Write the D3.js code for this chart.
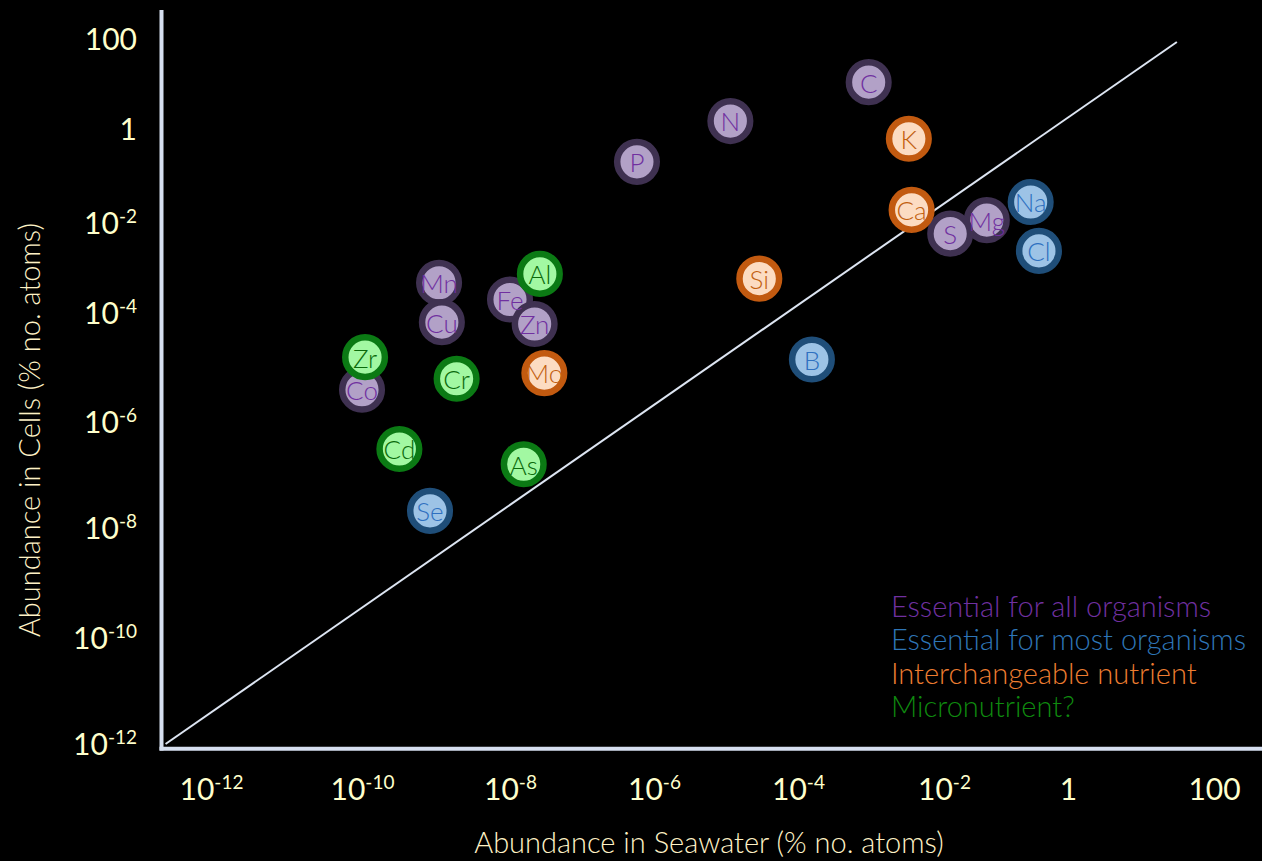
<!DOCTYPE html>
<html>
<head>
<meta charset="utf-8">
<script src="https://cdn.jsdelivr.net/npm/d3@7"></script>
<style>
    body { margin: 0; background: #000; }
    svg { display: block; }
    text { font-family: Lato, "Open Sans", sans-serif; }
</style>
</head>
<body>
<svg width="1262" height="861"></svg>
<script>
//tick values, same decades on both axes (% no. atoms)
const tickValues = [1e-12, 1e-10, 1e-8, 1e-6, 1e-4, 1e-2, 1, 100]

//elements. order = drawing order (later ones sit on top)
const elements = ["Mn", "Cu", "Fe", "Zn", "Al", "Co", "Zr", "Cr", "Mo", "Cd", "As", "Se",
                  "P", "N", "C", "K", "Si", "B", "Mg", "S", "Ca", "Na", "Cl"]
const groups   = ["all", "all", "all", "all", "micro", "all", "micro", "micro", "inter", "micro", "micro", "most",
                  "all", "all", "all", "inter", "inter", "most", "all", "all", "inter", "most", "most"]
const seawater = [1.1e-9, 1.2e-9, 1.0e-8, 2.2e-8, 2.6e-8, 1.0e-10, 1.1e-10, 1.9e-9, 3.0e-8, 3.2e-10, 1.55e-8, 8.3e-10,
                  5.8e-7, 1.15e-5, 9.3e-4, 3.3e-3, 2.9e-5, 1.55e-4, 0.049, 0.0126, 3.6e-3, 0.25, 0.34]
const cells    = [4.7e-4, 6.8e-5, 2.0e-4, 6.3e-5, 7.4e-4, 3.9e-6, 1.55e-5, 6.2e-6, 7.9e-6, 3.1e-7, 1.6e-7, 2.1e-8,
                  0.2, 1.5, 11, 0.62, 5.8e-4, 1.4e-5, 0.0115, 5.8e-3, 0.019, 0.028, 2.4e-3]

//legend
const groupKeys  = ["all", "most", "inter", "micro"]
const groupNames = ["Essential for all organisms", "Essential for most organisms", "Interchangeable nutrient", "Micronutrient?"]

//ends of the diagonal reference line
const lineSeawater = [2.5e-13, 31]
const lineCells    = [1e-12, 86]

//colours per group
const legendColor = { all: "#7030a0", most: "#2e75b6", inter: "#ed7d31", micro: "#0f8a0f" }
const fillColor   = { all: "#b2a1c7", most: "#9dc3e6", inter: "#fcdcc2", micro: "#a2f8a2" }
const strokeColor = { all: "#3f3151", most: "#1f4e79", inter: "#c25a10", micro: "#0b7a14" }
const textColor   = { all: "#7030a0", most: "#2e70c0", inter: "#c2600f", micro: "#0b6a0b" }

const svg = d3.select('svg')

//the labels on the slide are hand placed, so the scales follow them decade by decade
const x = d3.scaleLog()
    .domain(tickValues)
    .range([211, 362, 510, 654, 798, 944, 1068, 1214])

const y = d3.scaleLog()
    .domain(tickValues)
    .range([744, 638, 528, 422, 313, 223, 129, 39])

//writes 10 with a superscript exponent
function expLabel(sel, v) {
    const e = Math.round(Math.log10(v))
    sel.text(null)
    if (e === 0) { sel.text("1"); return }
    if (e === 2) { sel.text("100"); return }
    sel.append('tspan').text("10")
    sel.append('tspan').attr('font-size', 19).attr('dy', -11).text(e)
}

//frame
svg.append('line')
    .attr('x1', 161.5).attr('x2', 161.5)
    .attr('y1', 10).attr('y2', 750.5)
    .attr('stroke', '#d6dff0').attr('stroke-width', 4)
svg.append('line')
    .attr('x1', 159.5).attr('x2', 1262)
    .attr('y1', 748.7).attr('y2', 748.7)
    .attr('stroke', '#d6dff0').attr('stroke-width', 4)

//diagonal
svg.append('line')
    .attr('x1', x(lineSeawater[0])).attr('y1', y(lineCells[0]))
    .attr('x2', x(lineSeawater[1])).attr('y2', y(lineCells[1]))
    .attr('stroke', '#dde5f2').attr('stroke-width', 2)

//x axis labels
const xAxis = svg.append('g')
    .attr('transform', 'translate(0, 789)')
    .call(d3.axisBottom(x).tickValues(tickValues).tickSize(0).tickFormat(''))
xAxis.select('.domain').remove()
xAxis.attr('font-family', null).attr('font-size', 30)
xAxis.selectAll('.tick text')
    .attr('y', 0).attr('dy', '0.36em')
    .attr('fill', '#ffffcc')
    .attr('text-anchor', 'middle')
    .each(function(d) { expLabel(d3.select(this), d) })

//y axis labels
const yAxis = svg.append('g')
    .attr('transform', 'translate(137, 0)')
    .call(d3.axisLeft(y).tickValues(tickValues).tickSize(0).tickFormat(''))
yAxis.select('.domain').remove()
yAxis.attr('font-family', null).attr('font-size', 30)
yAxis.selectAll('.tick text')
    .attr('x', 0).attr('dy', '0.36em')
    .attr('fill', '#ffffcc')
    .attr('text-anchor', 'end')
    .each(function(d) { expLabel(d3.select(this), d) })

//axis titles
svg.append('text')
    .attr('x', 709).attr('y', 853)
    .attr('text-anchor', 'middle')
    .attr('font-size', 29)
    .attr('font-weight', 300)
    .attr('fill', '#fff2c6')
    .text('Abundance in Seawater (% no. atoms)')

svg.append('text')
    .attr('transform', 'translate(40, 430) rotate(-90)')
    .attr('text-anchor', 'middle')
    .attr('font-size', 29)
    .attr('font-weight', 300)
    .attr('fill', '#fff2c6')
    .text('Abundance in Cells (% no. atoms)')

//element bubbles
const pts = elements.map((el, i) => ({ el: el, g: groups[i], sea: seawater[i], cell: cells[i] }))

svg.append('g').selectAll('circle')
    .data(pts)
    .enter()
    .append('circle')
    .attr('cx', d => x(d.sea))
    .attr('cy', d => y(d.cell))
    .attr('r', 19.8)
    .attr('fill', d => fillColor[d.g])
    .attr('stroke', d => strokeColor[d.g])
    .attr('stroke-width', 6.5)

svg.append('g').selectAll('text')
    .data(pts)
    .enter()
    .append('text')
    .attr('x', d => x(d.sea))
    .attr('y', d => y(d.cell))
    .attr('dy', '0.4em')
    .attr('text-anchor', 'middle')
    .attr('font-size', 26)
    .attr('font-weight', 300)
    .attr('fill', d => textColor[d.g])
    .text(d => d.el)

//legend
svg.append('g').selectAll('text')
    .data(groupKeys)
    .enter()
    .append('text')
    .attr('x', 891)
    .attr('y', (d, i) => 617 + i * 33.4)
    .attr('font-size', 29)
    .attr('font-weight', 300)
    .attr('fill', d => legendColor[d])
    .text((d, i) => groupNames[i])
</script>
</body>
</html>
